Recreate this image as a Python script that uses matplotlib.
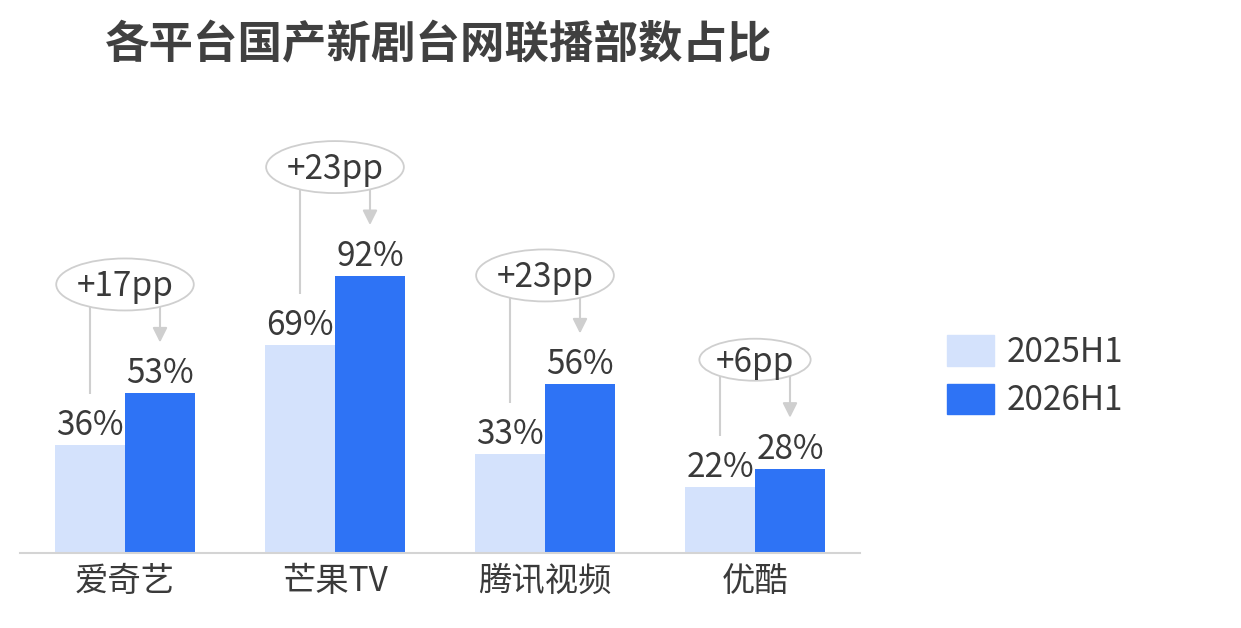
import matplotlib
matplotlib.use('Agg')
import matplotlib.pyplot as plt
from matplotlib.patches import Ellipse, Patch

plt.rcParams['font.family'] = ['Noto Sans CJK SC', 'DejaVu Sans']

platforms = ['爱奇艺', '芒果TV', '腾讯视频', '优酷']
share_2025 = [36, 69, 33, 22]
share_2026 = [53, 92, 56, 28]
series_names = ['2025H1', '2026H1']

light = '#D4E2FC'
dark = '#2E73F5'
text_c = '#3a3a3a'
grey = '#cfcfcf'
fw = 'light'

W, H = 1241, 628
fig = plt.figure(figsize=(W / 100, H / 100), dpi=100)
# axes placed in pixels: baseline at y=553, 100% = 301 px
ax_l, ax_b, ax_w, ax_h = 20, 75, 840, 301
ax = fig.add_axes([ax_l / W, ax_b / H, ax_w / W, ax_h / H])
ax.set_xlim(-0.5, 3.5)
ax.set_ylim(0, 100)
px_y = 100 / ax_h      # data units per pixel (y)
px_x = 4 / ax_w        # data units per pixel (x)

bw = 1 / 3
xs = list(range(len(platforms)))
x1 = [x - bw / 2 for x in xs]
x2 = [x + bw / 2 for x in xs]
ax.bar(x1, share_2025, width=bw, color=light, label=series_names[0])
ax.bar(x2, share_2026, width=bw, color=dark, label=series_names[1])

fs = 24
for xa, xb, a, b in zip(x1, x2, share_2025, share_2026):
    ax.text(xa, a + 10 * px_y, f'{a}%', ha='center', va='baseline',
            fontsize=fs, color=text_c, fontweight=fw)
    ax.text(xb, b + 10 * px_y, f'{b}%', ha='center', va='baseline',
            fontsize=fs, color=text_c, fontweight=fw)

fig.canvas.draw()
r = fig.canvas.get_renderer()
for x, xa, xb, a, b in zip(xs, x1, x2, share_2025, share_2026):
    cy = b + 109 * px_y
    t = ax.text(x, cy - 12 * px_y, f'+{b - a}pp', ha='center', va='baseline',
                fontsize=fs, color=text_c, zorder=5, fontweight=fw)
    tw = t.get_window_extent(r).width
    ew = tw * 1.42
    eh = 52 if ew > 125 else 42
    ax.add_patch(Ellipse((x, cy), ew * px_x, eh * px_y, facecolor='white',
                         edgecolor=grey, lw=1.3, zorder=4, clip_on=False))
    # vertical offset of ellipse edge at +/- 35px from centre
    dy = (eh / 2) * (1 - (35 / (ew / 2)) ** 2) ** 0.5
    ax.plot([xa, xa], [cy - dy * px_y, a + 51 * px_y], color=grey, lw=1.5,
            clip_on=False, zorder=3, solid_capstyle='butt')
    ax.annotate('', xy=(xb, b + 51 * px_y), xytext=(xb, cy - dy * px_y),
                arrowprops=dict(arrowstyle='-|>', color=grey, lw=1.5,
                                mutation_scale=22, shrinkA=0, shrinkB=0),
                annotation_clip=False, zorder=3)

ax.set_xticks(xs)
ax.set_xticklabels(platforms, fontsize=fs, color=text_c, fontweight=fw)
ax.tick_params(axis='x', length=0, pad=8)
ax.set_yticks([])
for s in ['top', 'right', 'left']:
    ax.spines[s].set_visible(False)
ax.spines['bottom'].set_color('#d4d4d4')
ax.spines['bottom'].set_linewidth(1.5)

fig.text(105 / W, 1 - 44 / H, '各平台国产新剧台网联播部数占比', fontsize=32,
         fontweight='bold', color='#404040', va='center', ha='left')

handles = [Patch(color=light), Patch(color=dark)]
fig.legend(handles, series_names, loc='upper left',
           bbox_to_anchor=(947 / W, 1 - 335 / H), frameon=False,
           prop={'size': fs, 'weight': fw}, handlelength=1.4,
           handleheight=1.05, handletextpad=0.4, labelspacing=0.4,
           borderpad=0, borderaxespad=0, labelcolor=text_c)

fig.savefig('out.png', dpi=100)
